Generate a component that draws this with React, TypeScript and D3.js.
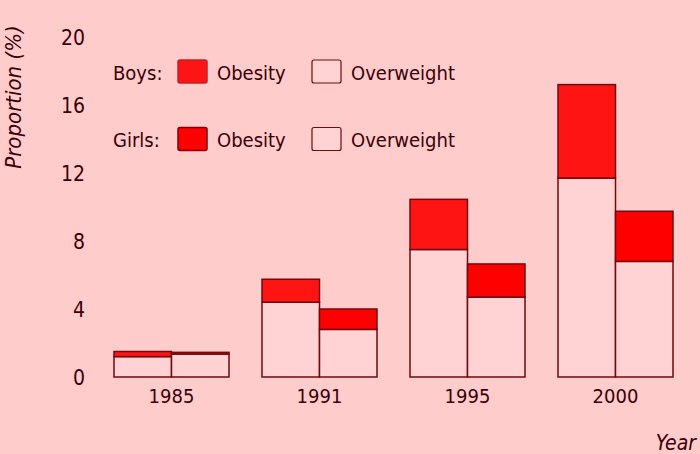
import React from "react";
import * as d3 from "d3";

const years = ["1985", "1991", "1995", "2000"];
const groups = ["Boys", "Girls"];
// stacked segments, % of children
const boysOverweight = [1.2, 4.4, 7.5, 11.7];
const boysObesity = [0.3, 1.35, 2.95, 5.5];
const girlsOverweight = [1.35, 2.8, 4.7, 6.8];
const girlsObesity = [0.1, 1.2, 1.95, 2.95];
const yTicks = [0, 4, 8, 12, 16, 20];

const W = 700, H = 454;
const BG = "#ffcccc";
const INK = "#3a0008";
const EDGE = "#6e0a10";
const OW_FILL = "#ffd3d3";
const BOY_RED = "#ff1414";
const GIRL_RED = "#ff0000";
const FONT = "'Liberation Sans Narrow', 'Arial Narrow', 'DejaVu Sans Condensed', sans-serif";

export default function App() {
  const x = d3.scaleBand<string>().domain(years).range([97.5, 689.5]).paddingInner(0.223).paddingOuter(0.1115);
  const sub = d3.scaleBand<string>().domain(groups).range([0, x.bandwidth()]);
  const y = d3.scaleLinear().domain([0, 20]).range([377, 37]);

  const series = [
    { key: "Boys", ow: boysOverweight, ob: boysObesity, red: BOY_RED, redEdge: "#c0202a" },
    { key: "Girls", ow: girlsOverweight, ob: girlsObesity, red: GIRL_RED, redEdge: "#7a0008" },
  ];

  return (
    <svg width={W} height={H} style={{ position: "absolute", left: 0, top: 0 }} fontFamily={FONT}>
      <rect width={W} height={H} fill={BG} />

      {/* y ticks */}
      {yTicks.map(t => (
        <text key={t} x={85} y={y(t)} dy="0.36em" textAnchor="end" fontSize={21} fill={INK}>{t}</text>
      ))}
      <text transform="translate(21,97) rotate(-90)" textAnchor="middle" fontSize={22} fontStyle="italic" fill={INK}>
        Proportion (%)
      </text>

      {/* bars */}
      {years.map((yr, i) => (
        <g key={yr} transform={`translate(${x(yr)},0)`}>
          {series.map(s => {
            const bx = sub(s.key)!;
            const bw = sub.bandwidth();
            const ow = s.ow[i], ob = s.ob[i];
            return (
              <g key={s.key}>
                <rect x={bx} y={y(ow)} width={bw} height={y(0) - y(ow)} fill={OW_FILL} stroke={EDGE} strokeWidth={1.5} />
                <rect x={bx} y={y(ow + ob)} width={bw} height={y(ow) - y(ow + ob)} fill={s.red} stroke={EDGE} strokeWidth={1.5} />
              </g>
            );
          })}
          <text x={x.bandwidth() / 2} y={402.5} textAnchor="middle" fontSize={20} fill={INK}>{yr}</text>
        </g>
      ))}

      {/* legend */}
      {series.map((s, k) => {
        const cy = k === 0 ? 71.5 : 139;
        return (
          <g key={s.key}>
            <text x={113} y={cy + 8} fontSize={20} fill={INK}>{s.key}:</text>
            <rect x={178} y={cy - 11.5} width={29} height={23} rx={2} fill={s.red} stroke={s.redEdge} strokeWidth={1.5} />
            <text x={217} y={cy + 8} fontSize={20} fill={INK}>Obesity</text>
            <rect x={312} y={cy - 11.5} width={29} height={23} rx={2} fill={OW_FILL} stroke={EDGE} strokeWidth={1.2} />
            <text x={351} y={cy + 8} fontSize={20} fill={INK}>Overweight</text>
          </g>
        );
      })}

      <text x={696} y={450} textAnchor="end" fontSize={21} fontStyle="italic" fill={INK}>Year</text>
    </svg>
  );
}
